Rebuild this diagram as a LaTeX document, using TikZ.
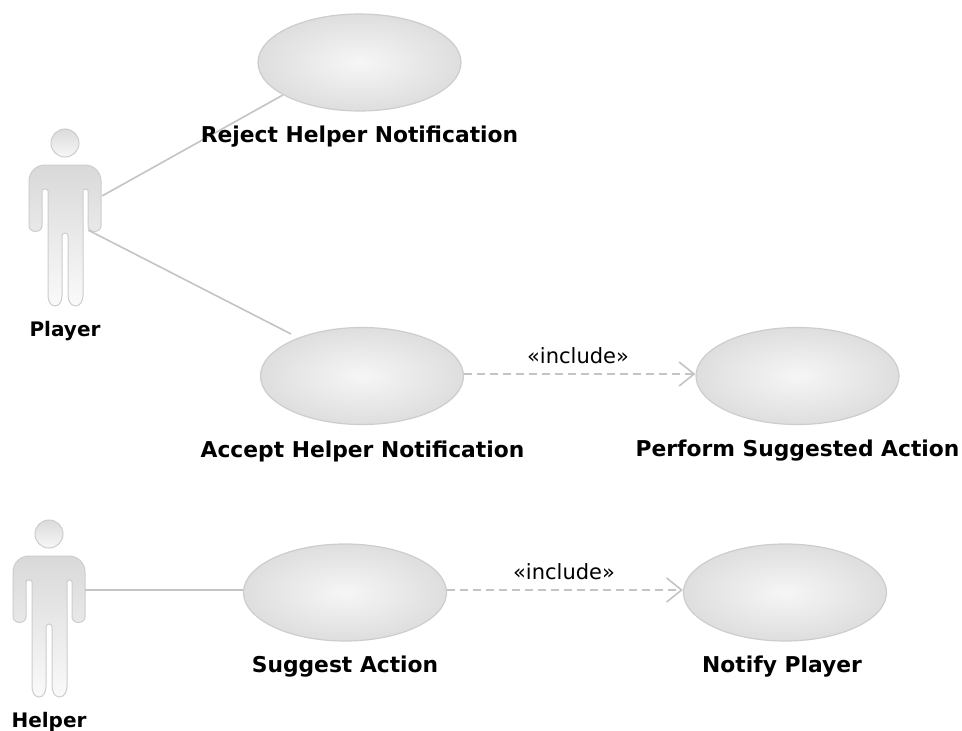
\documentclass[tikz,border=0pt]{standalone}
\usepackage{fontspec}
\setmainfont{DejaVu Sans}
\usetikzlibrary{shapes.geometric,arrows.meta}
\definecolor{linegray}{HTML}{C4C4C4}
\definecolor{edgegray}{HTML}{CDCDCD}
\definecolor{caseout}{HTML}{DEDEDE}
\definecolor{casein}{HTML}{F6F6F6}
\tikzset{
  x=1pt,y=-1pt,
  usecase/.style={ellipse,draw=edgegray,line width=1.2pt,inner sep=0pt,minimum width=203pt,minimum height=97pt,inner color=casein,outer color=caseout},
  caselabel/.style={inner sep=0pt,font=\fontsize{21.8}{24}\selectfont\bfseries},
  actorlabel/.style={inner sep=0pt,font=\fontsize{20}{23}\selectfont\bfseries},
  stereo/.style={inner sep=0pt,font=\fontsize{21}{23}\selectfont},
  assoc/.style={draw=linegray,line width=1.6pt},
  includes/.style={draw=linegray,line width=1.6pt,dash pattern=on 8pt off 5pt,-{Straight Barb[length=15pt,width=24pt,line width=1.6pt]}},
  actorbody/.style={draw=edgegray,line width=1pt,top color=black!15,bottom color=black!2},
  actorhead/.style={draw=edgegray,line width=1pt,top color=black!14,bottom color=black!3},
  anchorbox/.style={inner sep=0pt,minimum size=0pt},
  pics/stickman/.style={code={
    \path[actorhead] (65,143) circle[radius=14];
    \path[actorbody]
      (45,165) -- (85,165) to[out=0,in=90] (101,181) -- (101,226)
      to[out=-90,in=0] (94.5,231.5) to[out=180,in=-90] (88,226) -- (88,191)
      to[out=90,in=0] (85.5,189) to[out=180,in=90] (83,191) -- (83,295)
      to[out=-90,in=0] (75.5,306) to[out=180,in=-90] (68,295) -- (68,236)
      to[out=90,in=0] (65,233) to[out=180,in=90] (62,236) -- (62,295)
      to[out=-90,in=0] (55,306) to[out=180,in=-90] (48,295) -- (48,191)
      to[out=90,in=0] (45,189) to[out=180,in=90] (42,191) -- (42,226)
      to[out=-90,in=0] (35.5,231.5) to[out=180,in=-90] (29,226) -- (29,181)
      to[out=90,in=180] (45,165) -- cycle;
  }},
}
\begin{document}
\begin{tikzpicture}
\useasboundingbox (0,0) rectangle (962,731);
\fill[white] (0,0) rectangle (962,731);

% actors
\pic at (0,0) {stickman};
\pic at (-16,391) {stickman};
\node[anchorbox] (playerArm) at (102,196) {};
\node[anchorbox] (playerHip) at (88,230) {};
\node[anchorbox] (helperArm) at (85,590) {};
\coordinate (upperLevel) at (0,374);

% use cases
\node[usecase] (reject) at (359.5,62.5) {};
\node[usecase] (accept) at (362,376) {};
\node[usecase] (perform) at (797.5,376) {};
\node[usecase] (suggest) at (345,592.5) {};
\node[usecase] (notify) at (785,592.5) {};

% connectors
\draw[assoc] (playerArm) -- (reject.203.5);
\draw[assoc,shorten >=8pt] (playerHip) -- (accept.149.4);
\draw[assoc] (helperArm) -- (suggest.west |- helperArm);
\draw[includes] (accept.east |- upperLevel) -- (perform.west |- upperLevel);
\draw[includes] (suggest.east |- helperArm) -- (notify.west |- helperArm);

% labels
\node[caselabel] (rejectL) at (359.5,137) {Reject Helper Notification};
\node[caselabel] (acceptL) at (362.5,451) {Accept Helper Notification};
\node[caselabel] (performL) at (797.5,451) {Perform Suggested Action};
\node[caselabel] (suggestL) at (345,667) {Suggest Action};
\node[caselabel] (notifyL) at (782,667) {Notify Player};
\node[actorlabel] (playerL) at (65,331) {Player};
\node[actorlabel] (helperL) at (49,722) {Helper};
\node[stereo] (inc1) at (578,356) {«include»};
\node[stereo] (inc2) at (564,572) {«include»};
\end{tikzpicture}
\end{document}
